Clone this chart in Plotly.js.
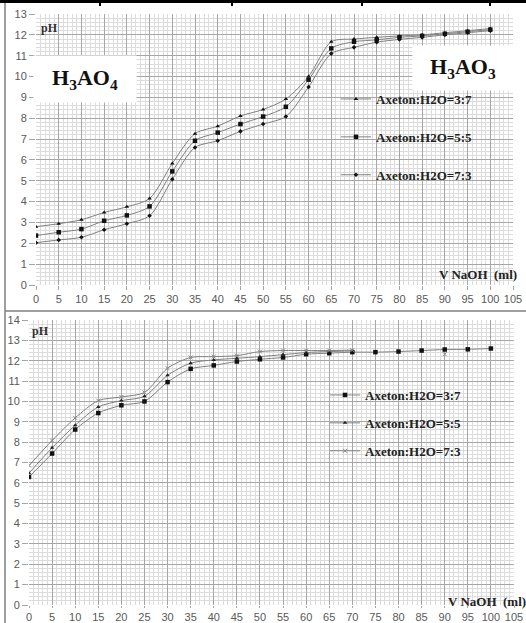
<!DOCTYPE html>
<html>
<head>
<meta charset="utf-8">
<script src="https://cdn.plot.ly/plotly-3.0.1.min.js"></script>
<style>html,body{margin:0;padding:0;background:#fff;}#chart{width:526px;height:623px;}</style>
</head>
<body>
<div id="chart"></div>
<script>
// ---- data: top chart (H3AO4 / H3AO3) ----
const vTop = [0,5,10,15,20,25,30,35,40,45,50,55,60,65,70,75,80,85,90,95,100];
const top37 = [2.80,2.94,3.13,3.48,3.75,4.15,5.83,7.26,7.62,8.11,8.42,8.92,10.0,11.67,11.80,11.88,11.95,12.00,12.10,12.20,12.30];
const top55 = [2.37,2.53,2.68,3.08,3.34,3.77,5.45,6.92,7.31,7.72,8.08,8.55,9.85,11.35,11.67,11.76,11.88,11.95,12.05,12.15,12.25];
const top73 = [2.03,2.16,2.29,2.65,2.94,3.32,5.07,6.60,6.92,7.37,7.72,8.08,9.50,11.10,11.40,11.65,11.78,11.88,12.00,12.10,12.20];

// ---- data: bottom chart ----
const vBot = [0,5,10,15,20,25,30,35,40,45,50,55,60,65,70,75,80,85,90,95,100];
const bot37 = [6.29,7.44,8.62,9.43,9.81,10.00,10.95,11.60,11.77,11.96,12.07,12.16,12.32,12.37,12.42,12.42,12.45,12.50,12.55,12.56,12.60];
const bot55 = [6.48,7.72,8.83,9.73,10.04,10.25,11.28,11.88,12.04,12.12,12.20,12.30,12.40,12.45,12.48,null,null,null,null,null,null];
const bot73 = [6.85,8.08,9.19,10.04,10.22,10.44,11.63,12.16,12.20,12.25,12.45,12.50,12.50,12.50,12.52,null,null,null,12.32,null,null];

const ticksX = [0,5,10,15,20,25,30,35,40,45,50,55,60,65,70,75,80,85,90,95,100,105];
const names = ['Axeton:H2O=3:7','Axeton:H2O=5:5','Axeton:H2O=7:3'];

const W = 526, H = 623;
const X = p => p / W;
const Y = p => 1 - p / H;

const lineStyle = {color:'#808080', width:1, shape:'spline', smoothing:0.8};
const serif = 'Liberation Serif, Times New Roman, serif';

const traces = [
  {x:vTop, y:top37, name:names[0], xaxis:'x', yaxis:'y', legend:'legend', legendgroup:'a',
   mode:'lines+markers', line:lineStyle, marker:{symbol:'triangle-up', size:4, color:'#111'}},
  {x:vTop, y:top55, name:names[1], xaxis:'x', yaxis:'y', legend:'legend', legendgroup:'b',
   mode:'lines+markers', line:lineStyle, marker:{symbol:'square', size:4.5, color:'#111'}},
  {x:vTop, y:top73, name:names[2], xaxis:'x', yaxis:'y', legend:'legend', legendgroup:'c',
   mode:'lines+markers', line:lineStyle, marker:{symbol:'diamond', size:3.5, color:'#111'}},
  {x:vBot, y:bot37, name:names[0], xaxis:'x2', yaxis:'y2', legend:'legend2', legendgroup:'d',
   mode:'lines+markers', line:lineStyle, marker:{symbol:'square', size:4.5, color:'#111'}},
  {x:vBot, y:bot55, name:names[1], xaxis:'x2', yaxis:'y2', legend:'legend2', legendgroup:'e',
   mode:'lines+markers', line:lineStyle, marker:{symbol:'triangle-up', size:4, color:'#222'}, connectgaps:false},
  {x:vBot, y:bot73, name:names[2], xaxis:'x2', yaxis:'y2', legend:'legend2', legendgroup:'f',
   mode:'lines+markers', line:lineStyle, marker:{symbol:'x-thin', size:4, color:'#888', line:{color:'#888', width:1}}, connectgaps:false}
];

const tickFont = {family:'Liberation Sans, Arial, sans-serif', size:11, color:'#595959'};
function xAxis(domain, anchor, tl) {
  return {domain:domain, anchor:anchor, range:[0,105], tickvals:ticksX, ticktext:ticksX.map(String),
    showgrid:true, gridcolor:'#a6a6a6', gridwidth:1, zeroline:false, showline:false,
    ticks:'outside', ticklen:tl, tickcolor:'#a6a6a6', tickfont:tickFont,
    minor:{dtick:1, showgrid:true, gridcolor:'#dcdcdc', gridwidth:1}, fixedrange:true};
}
function yAxis(domain, anchor, max) {
  return {domain:domain, anchor:anchor, range:[0,max], dtick:1, tick0:0,
    showgrid:true, gridcolor:'#a6a6a6', gridwidth:1, zeroline:false, showline:false,
    ticks:'outside', ticklen:6, tickcolor:'#a6a6a6', tickfont:tickFont,
    minor:{dtick:0.2, showgrid:true, gridcolor:'#dcdcdc', gridwidth:1}, fixedrange:true};
}

const legFont = {family:serif, size:13, color:'#222', weight:'bold'};
function label(px, py, text, size, color, extra) {
  return Object.assign({xref:'paper', yref:'paper', x:X(px), y:Y(py), xanchor:'center', yanchor:'middle',
    text:text, showarrow:false, font:{family:serif, size:size, color:color, weight:'bold'}}, extra || {});
}
const layout = {
  width:W, height:H, margin:{l:0, r:0, t:0, b:0},
  paper_bgcolor:'#fff', plot_bgcolor:'#fff',
  xaxis: xAxis([X(36), X(513)], 'y', 4),
  yaxis: yAxis([Y(285), Y(14)], 'x', 13),
  xaxis2: xAxis([X(29), X(514)], 'y2', 2),
  yaxis2: yAxis([Y(605), Y(320)], 'x2', 14),
  legend: {x:X(336), y:Y(84), xanchor:'left', yanchor:'top', bgcolor:'rgba(0,0,0,0)',
    font:legFont, tracegroupgap:18, itemwidth:30},
  legend2: {x:X(325), y:Y(380), xanchor:'left', yanchor:'top', bgcolor:'rgba(0,0,0,0)',
    font:legFont, tracegroupgap:8, itemwidth:30},
  annotations: [
    label(85, 79, 'H<sub>3</sub>AO<sub>4</sub>', 22, '#111', {bgcolor:'#fff', width:100, height:44}),
    label(463, 68, 'H<sub>3</sub>AO<sub>3</sub>', 22, '#111', {bgcolor:'#fff', width:98, height:42}),
    label(49, 28, 'pH', 12, '#333'),
    label(40, 331, 'pH', 12, '#333'),
    label(478, 275, 'V NaOH  (ml)', 13, '#222'),
    label(487, 601, 'V NaOH  (ml)', 13, '#222')
  ],
  shapes: [
    {type:'line', xref:'paper', yref:'paper', x0:0, x1:1, y0:Y(1.5), y1:Y(1.5), line:{color:'#000', width:3}},
    {type:'line', xref:'paper', yref:'paper', x0:X(100), x1:X(100), y0:Y(0), y1:Y(6), line:{color:'#000', width:2}},
    {type:'line', xref:'paper', yref:'paper', x0:X(232), x1:X(232), y0:Y(0), y1:Y(6), line:{color:'#000', width:2}},
    {type:'line', xref:'paper', yref:'paper', x0:X(362), x1:X(362), y0:Y(0), y1:Y(6), line:{color:'#000', width:2}},
    {type:'line', xref:'paper', yref:'paper', x0:X(490), x1:X(490), y0:Y(0), y1:Y(6), line:{color:'#000', width:2}},
    {type:'line', xref:'paper', yref:'paper', x0:X(5), x1:X(5), y0:Y(3), y1:0, line:{color:'#7f7f7f', width:1.5}},
    {type:'line', xref:'paper', yref:'paper', x0:X(5), x1:1, y0:Y(311), y1:Y(311), line:{color:'#7f7f7f', width:1.5}}
  ],
  showlegend:true
};

Plotly.newPlot('chart', traces, layout, {displayModeBar:false, staticPlot:true});
</script>
</body>
</html>
